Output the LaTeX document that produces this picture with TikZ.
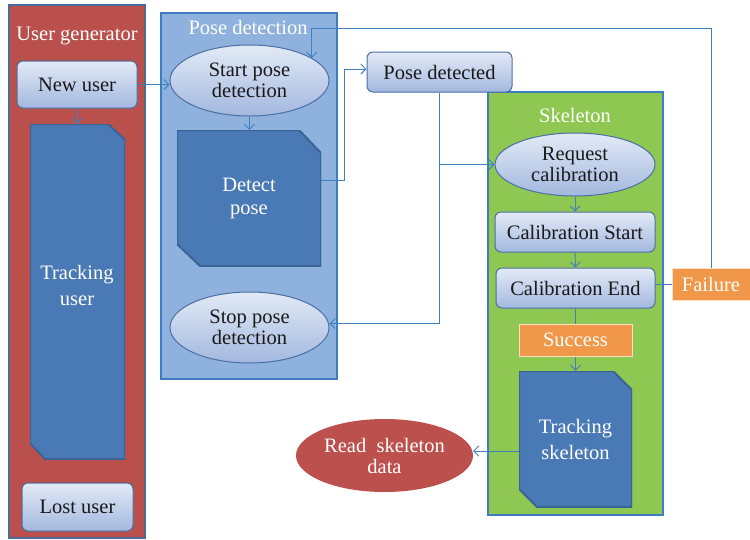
\documentclass[tikz,border=0pt]{standalone}
\usepackage{fontspec}
\setmainfont{Liberation Serif}
\usetikzlibrary{arrows.meta,shapes.geometric,calc}

\definecolor{ugred}{HTML}{B9504C}
\definecolor{posebg}{HTML}{8EB2DD}
\definecolor{skelbg}{HTML}{8EC752}
\definecolor{panelline}{HTML}{3C7DC4}
\definecolor{ugline}{HTML}{4A6A95}
\definecolor{gtop}{HTML}{E2EAF6}
\definecolor{gbot}{HTML}{A3B8DF}
\definecolor{gline}{HTML}{4A6FA5}
\definecolor{docblue}{HTML}{4A7AB5}
\definecolor{docline}{HTML}{3A6396}
\definecolor{orng}{HTML}{F0974A}
\definecolor{orngline}{HTML}{FBE0C6}
\definecolor{connc}{HTML}{3F80C2}
\definecolor{readred}{HTML}{BC504C}

\tikzset{
  txt/.style={font=\rmfamily\fontsize{20.5}{21}\selectfont, align=center, inner sep=0pt},
  panel/.style={draw=panelline, line width=1.3pt, inner sep=0pt},
  ptitle/.style={txt, text=white},
  grad/.style={txt, draw=gline, line width=1pt, top color=gtop, bottom color=gbot, text=black!90},
  rbox/.style={grad, rectangle, rounded corners=6pt},
  oval/.style={grad, ellipse},
  orangebox/.style={txt, fill=orng, draw=orngline, line width=1pt, text=white},
  cutbox/.style n args={4}{txt, text=white, rectangle,
    path picture={
      \filldraw[fill=docblue, draw=docline, line width=2pt]
        (path picture bounding box.north west)
        -- ([xshift=-#1pt]path picture bounding box.north east)
        -- ([yshift=-#2pt]path picture bounding box.north east)
        -- (path picture bounding box.south east)
        -- ([xshift=#3pt]path picture bounding box.south west)
        -- ([yshift=#4pt]path picture bounding box.south west)
        -- cycle;}},
  conn/.style={draw=connc, line width=0.9pt, -{Straight Barb[length=5pt,width=10pt]}},
  plainconn/.style={draw=connc, line width=0.9pt},
}

\begin{document}
\begin{tikzpicture}[x=1pt, y=-1pt]
\useasboundingbox (0,0) rectangle (750,539);

% --- panels ---
\node[panel, draw=ugline, fill=ugred, minimum width=136pt, minimum height=533pt] (ugen) at (77,271.5) {};
\node[panel, fill=posebg, minimum width=176pt, minimum height=366pt] (pose) at (249,196) {};
\node[panel, fill=skelbg, minimum width=175pt, minimum height=423pt] (skel) at (575.5,303.5) {};

\node[ptitle] (ugent) at (77,36) {User generator};
\node[ptitle] (poset) at (248,27) {Pose detection};
\node[ptitle] (skelt) at (575,115) {Skeleton};

% --- user generator ---
\node[rbox, minimum width=120pt, minimum height=47pt] (newuser) at (77,84.5) {New user};
\node[cutbox={17}{16}{15}{16}, minimum width=95pt, minimum height=335pt] (trackuser) at (77.5,291.5) {};
\node[txt, text=white] (trackusert) at (77,285) {Tracking\\[5pt]user};
\node[rbox, minimum width=111pt, minimum height=48pt] (lostuser) at (77.5,507) {Lost user};

% --- pose detection ---
\node[oval, minimum width=159pt, minimum height=71pt] (startpose) at (249.5,80.5) {Start pose\\detection};
\node[cutbox={22}{23}{23}{22}, minimum width=144pt, minimum height=136pt] (detect) at (249,198) {Detect\\[2pt]pose};
\node[oval, minimum width=159pt, minimum height=71pt] (stoppose) at (249.5,327.5) {Stop pose\\detection};
\node[rbox, minimum width=145pt, minimum height=40pt] (posedet) at (439.5,72) {Pose detected};

% --- skeleton ---
\node[oval, minimum width=160pt, minimum height=63pt] (reqcal) at (575,164.5) {Request\\calibration};
\node[rbox, minimum width=160pt, minimum height=40pt] (calstart) at (575,232) {Calibration Start};
\node[rbox, minimum width=159pt, minimum height=40pt] (calend) at (575.5,288) {Calibration End};
\node[orangebox, minimum width=78pt, minimum height=32pt] (failure) at (711,284) {Failure};
\node[orangebox, minimum width=113pt, minimum height=32pt] (success) at (575.5,340) {Success};
\node[cutbox={19}{19}{18}{18}, minimum width=113pt, minimum height=136pt] (trackskel) at (575.5,439) {Tracking\\[5pt]skeleton};
\node[txt, ellipse, fill=readred, text=white, minimum width=177pt, minimum height=73pt] (readskel) at (384.5,455.5) {Read~~skeleton\\data};

% --- connectors ---
\draw[conn] (newuser.south) -- (newuser.south |- trackuser.north);
\draw[conn] (newuser.east) -- (newuser.east -| startpose.west);
\draw[conn] (startpose.south) -- (startpose.south |- detect.north);
\draw[conn] ([yshift=18pt]detect.east) -- ++(23,0) |- ([yshift=3pt]posedet.west);
\draw[conn] (posedet.south) |- ([yshift=4pt]stoppose.east);
\coordinate (split) at (posedet.south |- reqcal.west);
\draw[conn] (split) -- (reqcal.west);
\draw[conn] (reqcal.south) -- (calstart.north);
\draw[conn] (calstart.south) -- (calend.north);
\draw[plainconn] (failure.west) -- (failure.west -| calend.east);
\coordinate (ftop) at ($(failure.north |- 0,28)$);
\draw[conn] (failure.north) -- (ftop) -| (startpose.20);
\draw[plainconn] (calend.south) -- (calend.south |- success.north);
\draw[conn] (success.south) -- (success.south |- trackskel.north);
\draw[conn] ([yshift=-12pt]trackskel.west) -- ([yshift=-12pt]trackskel.west -| readskel.east);
\end{tikzpicture}
\end{document}
